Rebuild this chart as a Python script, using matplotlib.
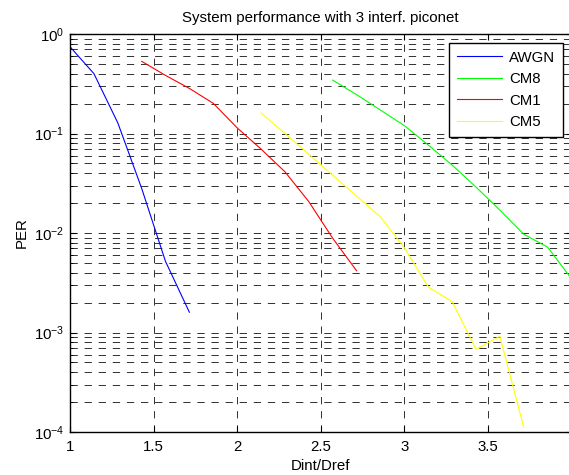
"""PER vs Dint/Dref for 3 interfering piconets (MATLAB-style semilog plot)."""
import matplotlib
matplotlib.use("Agg")
import matplotlib.pyplot as plt
from matplotlib.ticker import LogLocator, NullFormatter

plt.rcParams["font.family"] = ["Liberation Sans", "DejaVu Sans"]
plt.rcParams["mathtext.fontset"] = "custom"
plt.rcParams["mathtext.rm"] = "Liberation Sans"
plt.rcParams["mathtext.it"] = "Liberation Sans:italic"
plt.rcParams["mathtext.bf"] = "Liberation Sans:bold"

# x positions (step 1/7)
x_awgn = [1.0, 1.143, 1.286, 1.429, 1.571, 1.714]
per_awgn = [0.745, 0.40, 0.128, 0.028, 0.0052, 0.0016]

x_cm8 = [2.571, 2.714, 2.857, 3.0, 3.143, 3.286, 3.429, 3.571, 3.714, 3.857, 4.0]
per_cm8 = [0.344, 0.246, 0.172, 0.120, 0.0766, 0.0481, 0.0289, 0.0170,
           0.00973, 0.0072, 0.00346]

x_cm1 = [1.429, 1.571, 1.714, 1.857, 2.0, 2.143, 2.286, 2.429, 2.571, 2.714]
per_cm1 = [0.531, 0.384, 0.284, 0.201, 0.114, 0.0697, 0.0412, 0.0206,
           0.00887, 0.00418]

x_cm5 = [2.143, 2.286, 2.429, 2.571, 2.714, 2.857, 3.0, 3.143, 3.286,
         3.429, 3.571, 3.714]
per_cm5 = [0.161, 0.100, 0.0618, 0.0381, 0.0235, 0.0145, 0.00711, 0.00287,
           0.00204, 0.000678, 0.000916, 0.000112]

x_ticks = [1, 1.5, 2, 2.5, 3, 3.5]

fs = 10.8

fig = plt.figure(figsize=(5.69, 4.75), dpi=100)
# right edge sits just past the figure border, like the original export
ax = fig.add_axes([0.123, 0.0905, 0.8815, 0.8379])

lw = 0.8
ax.semilogy(x_awgn, per_awgn, color="#0000ff", lw=lw, label="AWGN")
ax.semilogy(x_cm8, per_cm8, color="#00ff00", lw=lw, label="CM8")
ax.semilogy(x_cm1, per_cm1, color="#ff0000", lw=lw, label="CM1")
ax.semilogy(x_cm5, per_cm5, color="#ffff00", lw=lw, label="CM5")

ax.set_xlim(1, 4)
ax.set_ylim(1e-4, 1)
ax.set_xticks(x_ticks)
ax.set_xticklabels([f"{t:g}" for t in x_ticks])
ax.yaxis.set_major_locator(LogLocator(base=10, numticks=10))
ax.yaxis.set_minor_locator(LogLocator(base=10, subs=range(2, 10), numticks=10))
ax.yaxis.set_minor_formatter(NullFormatter())

ax.tick_params(which="both", direction="in", labelsize=fs, top=True, right=True)
ax.tick_params(which="major", length=4)
ax.tick_params(axis="x", which="major", pad=6)
ax.tick_params(axis="y", which="major", pad=4)
ax.tick_params(which="minor", length=2)

dash = (0, (7.5, 7))
ax.grid(True, which="major", axis="both", color="#303030", lw=0.7, linestyle=dash)
ax.grid(True, which="minor", axis="y", color="#303030", lw=0.7, linestyle=dash)

for s in ax.spines.values():
    s.set_linewidth(1.0)

ax.set_title("System performance with 3 interf. piconet", fontsize=fs, pad=9)
ax.set_xlabel("Dint/Dref", fontsize=fs, labelpad=3)
ax.set_ylabel("PER", fontsize=fs, labelpad=4)

leg = ax.legend(loc="upper right", bbox_to_anchor=(0.983, 0.977), fontsize=fs,
                handlelength=3.0, fancybox=False, framealpha=1, borderaxespad=0,
                labelspacing=0.5, handletextpad=0.5, borderpad=0.5)
leg.get_frame().set_edgecolor("black")
leg.get_frame().set_linewidth(1.0)

fig.savefig("out.png", dpi=100)
plt.close(fig)
